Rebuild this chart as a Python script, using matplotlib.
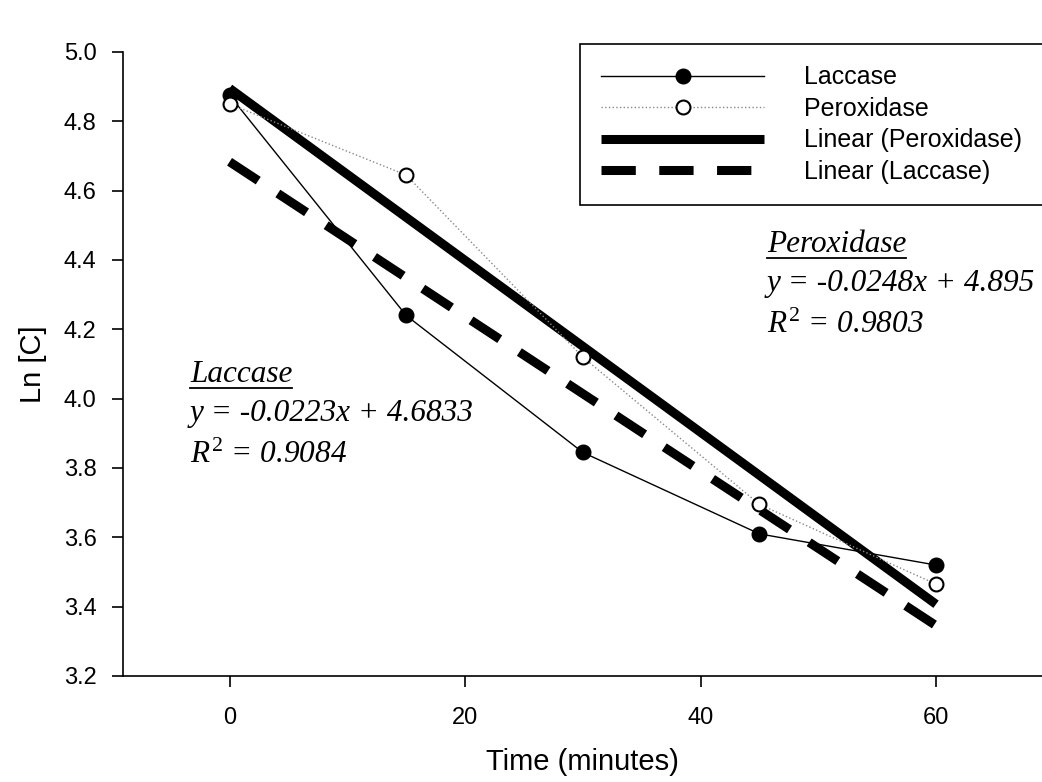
import numpy as np
import matplotlib.pyplot as plt
from matplotlib.lines import Line2D

# -----------------------------
# Data
# -----------------------------
time_min = [0, 15, 30, 45, 60]
ln_c_laccase = [4.875, 4.240, 3.845, 3.610, 3.520]
ln_c_peroxidase = [4.850, 4.645, 4.120, 3.695, 3.465]

# trendline equations printed on the chart
slope_lac, icpt_lac, r2_lac = -0.0223, 4.6833, 0.9084
slope_per, icpt_per, r2_per = -0.0248, 4.895, 0.9803

plt.rcParams['font.family'] = ['Liberation Sans', 'DejaVu Sans']
plt.rcParams['mathtext.fontset'] = 'custom'
plt.rcParams['mathtext.rm'] = 'Liberation Serif'
plt.rcParams['mathtext.it'] = 'Liberation Serif:italic'

fig = plt.figure(figsize=(10.42, 7.82), dpi=100)
ax = fig.add_axes([123 / 1042, 1 - 676 / 782, (1042 - 123) / 1042, (676 - 52) / 782])

# -----------------------------
# Data series
# -----------------------------
ax.plot(time_min, ln_c_laccase, '-', color='black', lw=1.0,
        marker='o', ms=10.5, mfc='black', mec='black', label='Laccase', zorder=4)
ax.plot(time_min, ln_c_peroxidase, ':', color='#888888', lw=1.0,
        marker='o', ms=10, mfc='white', mec='black', mew=1.5, label='Peroxidase', zorder=4)

# Trendlines
xfit = np.array([time_min[0], time_min[-1]])
ax.plot(xfit, slope_per * xfit + icpt_per, '-', color='black', lw=6.5,
        solid_capstyle='butt', label='Linear (Peroxidase)', zorder=3)
ax.plot(xfit, slope_lac * xfit + icpt_lac, color='black', lw=6.5,
        dashes=(3.8, 2.6), dash_capstyle='butt', label='Linear (Laccase)', zorder=3)

# -----------------------------
# Axes formatting
# -----------------------------
ax.set_xlim(-9.05, 69.0)
ax.set_ylim(3.2, 5.0)
ax.set_xticks([0, 20, 40, 60])
ax.set_yticks(np.arange(3.2, 5.01, 0.2))
ax.yaxis.set_major_formatter(plt.FormatStrFormatter('%.1f'))
ax.tick_params(direction='out', length=8, width=1.2, labelsize=17)
ax.tick_params(axis='y', pad=11)
ax.tick_params(axis='x', pad=14)
for s in ['top', 'right']:
    ax.spines[s].set_visible(False)
for s in ['left', 'bottom']:
    ax.spines[s].set_linewidth(1.2)

ax.set_xlabel('Time (minutes)', fontsize=21, labelpad=14)
ax.set_ylabel('Ln [C]', fontsize=21, labelpad=12)

leg = fig.legend(loc='upper left', bbox_to_anchor=(580 / 1042, 1 - 44 / 782),
                 fontsize=18, handlelength=6.5, handletextpad=1.6,
                 labelspacing=0.3, borderpad=0.85, borderaxespad=0,
                 fancybox=False, edgecolor='black', framealpha=1)
leg.get_frame().set_linewidth(1.2)

# -----------------------------
# Equation annotations
# -----------------------------
tstyle = dict(fontsize=22.5, family='Liberation Serif', style='italic',
              transform=fig.transFigure, va='baseline', ha='left')

def block(x, y, name, slope, icpt, r2):
    px = x / 1042
    t = fig.text(px, 1 - y / 782, name, **tstyle)
    fig.text(px, 1 - (y + 39) / 782, f'y = {slope}x + {icpt}', **tstyle)
    fig.text(px, 1 - (y + 81) / 782, r'$R^2$' + f' = {r2}', **tstyle)
    return t

t1 = block(767, 252, 'Peroxidase', slope_per, icpt_per, r2_per)
t2 = block(190, 382, 'Laccase', slope_lac, icpt_lac, r2_lac)

# underline the headings
fig.canvas.draw()
r = fig.canvas.get_renderer()
for t in (t1, t2):
    bb = t.get_window_extent(r)
    yl = bb.y0 + 1
    fig.add_artist(Line2D([bb.x0 / 1042, bb.x1 / 1042], [yl / 782, yl / 782],
                          color='black', lw=1.3, transform=fig.transFigure))

fig.savefig('out.png', dpi=100)
